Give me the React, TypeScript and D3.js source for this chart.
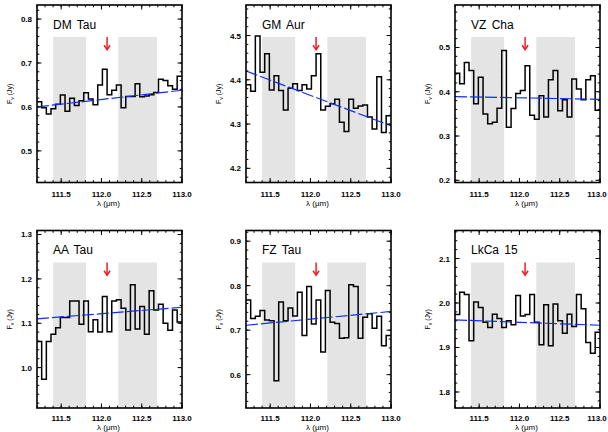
import React from 'react';
import * as d3 from 'd3';

// ---- data ----
const wavelength = [
  111.229, 111.287, 111.345, 111.403, 111.461, 111.519, 111.577, 111.635, 111.693, 111.751,
  111.809, 111.867, 111.925, 111.983, 112.041, 112.099, 112.157, 112.215, 112.273, 112.331,
  112.389, 112.447, 112.505, 112.563, 112.621, 112.679, 112.737, 112.795, 112.853, 112.911,
  112.969,
];

const targets = ['DM Tau', 'GM Aur', 'VZ Cha', 'AA Tau', 'FZ Tau', 'LkCa 15'];

const fluxDMTau = [
  0.612, 0.598, 0.584, 0.596, 0.606, 0.627, 0.590, 0.620, 0.603, 0.614,
  0.632, 0.618, 0.605, 0.650, 0.686, 0.628, 0.638, 0.650, 0.598, 0.624,
  0.624, 0.653, 0.623, 0.625, 0.628, 0.633, 0.663, 0.660, 0.648, 0.640,
  0.670,
];
const fluxGMAur = [
  4.389, 4.374, 4.499, 4.417, 4.459, 4.377, 4.409, 4.376, 4.332, 4.381,
  4.391, 4.376, 4.389, 4.379, 4.409, 4.459, 4.332, 4.340, 4.346, 4.356,
  4.304, 4.283, 4.356, 4.336, 4.341, 4.343, 4.316, 4.289, 4.407, 4.281,
  4.319,
];
const fluxVZCha = [
  0.442, 0.418, 0.466, 0.448, 0.373, 0.433, 0.350, 0.328, 0.331, 0.363,
  0.493, 0.320, 0.362, 0.396, 0.403, 0.459, 0.347, 0.338, 0.391, 0.343,
  0.427, 0.448, 0.357, 0.382, 0.343, 0.429, 0.406, 0.382, 0.427, 0.436,
  0.358,
];
const fluxAATau = [
  1.059, 0.974, 1.059, 1.075, 1.090, 1.113, 1.113, 1.150, 1.150, 1.098,
  1.150, 1.081, 1.108, 1.080, 1.160, 1.081, 1.150, 1.153, 1.134, 1.085,
  1.187, 1.087, 1.138, 1.075, 1.173, 1.130, 1.143, 1.100, 1.084, 1.130,
  1.103,
];
const fluxFZTau = [
  0.768, 0.726, 0.731, 0.744, 0.723, 0.721, 0.586, 0.763, 0.721, 0.750,
  0.732, 0.785, 0.688, 0.798, 0.714, 0.768, 0.651, 0.789, 0.718, 0.715,
  0.682, 0.683, 0.802, 0.798, 0.682, 0.729, 0.737, 0.704, 0.731, 0.665,
  0.688,
];
const fluxLkCa15 = [
  1.974, 2.024, 2.019, 1.915, 2.002, 1.990, 1.957, 1.945, 1.975, 1.965,
  1.945, 1.960, 1.951, 2.017, 1.971, 1.974, 2.019, 1.957, 1.906, 1.996,
  1.904, 1.998, 1.960, 1.932, 1.975, 1.947, 2.019, 1.987, 1.911, 1.887,
  1.934,
];
const fluxes = [fluxDMTau, fluxGMAur, fluxVZCha, fluxAATau, fluxFZTau, fluxLkCa15];

const yDomains: [number, number][] = [
  [0.428, 0.832], [4.168, 4.569], [0.195, 0.596],
  [0.909, 1.309], [0.525, 0.924], [1.764, 2.163],
];
const fitStart = [0.600, 4.420, 0.389, 1.110, 0.711, 1.962];
const fitEnd = [0.638, 4.296, 0.383, 1.136, 0.742, 1.950];

const xDomain: [number, number] = [111.2, 113.0];
const xMajorTicks = [111.5, 112.0, 112.5, 113.0];
const xTickLabels = ['111.5', '112.0', '112.5', '113.0'];
const continuumBands: [number, number][] = [[111.40, 111.81], [112.21, 112.69]];
const hdLine = 112.07;

// ---- layout ----
const colLeft = [37, 246, 455];
const rowTop = [5, 230.5];
const PW = 145;
const PH = 177.5;
const SVG_W = 608;
const FONT = "'Liberation Sans', Arial, Helvetica, sans-serif";

function Panel({ i }: { i: number }) {
  const row = Math.floor(i / 3);
  const left = colLeft[i % 3];
  const top = rowTop[row];
  const x = d3.scaleLinear().domain(xDomain).range([left, left + PW]);
  const y = d3.scaleLinear().domain(yDomains[i]).range([top + PH, top]);
  const [y0, y1] = yDomains[i];

  const pts: [number, number][] = [
    [xDomain[0], fluxes[i][0]],
    ...wavelength.map((w, k) => [w, fluxes[i][k]] as [number, number]),
    [xDomain[1], fluxes[i][fluxes[i].length - 1]],
  ];
  const stepPath = d3.line<[number, number]>()
    .x(d => x(d[0]))
    .y(d => y(d[1]))
    .curve(d3.curveStep)(pts) || '';

  const yMajor = d3.range(Math.ceil(y0 * 10 - 1e-6), Math.floor(y1 * 10 + 1e-6) + 1).map(v => v / 10);
  const yMinor = d3.range(Math.ceil(y0 * 50 - 1e-6), Math.floor(y1 * 50 + 1e-6) + 1).map(v => v / 50);
  const xMinor = d3.range(1112, 1131).map(v => v / 10);

  const bandTop = top + PH * 0.18;
  const ax = x(hdLine);
  const arrowTail = top + PH * 0.18;
  const arrowTip = top + PH * 0.252;
  const clipId = `clip${i}`;
  const majLen = 4.5;
  const minLen = 2.3;
  const tickLabelDy = row === 0 ? 14 : 12.5;
  const axisTitleDy = row === 0 ? 23.5 : 21.5;

  return (
    <g>
      <defs>
        <clipPath id={clipId}>
          <rect x={left} y={top} width={PW} height={PH} />
        </clipPath>
      </defs>
      {continuumBands.map((b, k) => (
        <rect key={k} x={x(b[0])} y={bandTop} width={x(b[1]) - x(b[0])} height={top + PH - bandTop} fill="#e4e4e4" />
      ))}
      <g clipPath={`url(#${clipId})`}>
        <path d={stepPath} fill="none" stroke="#000" strokeWidth={1.5} />
        <line x1={x(xDomain[0])} x2={x(xDomain[1])} y1={y(fitStart[i])} y2={y(fitEnd[i])}
          stroke="#1030f0" strokeWidth={1.2} strokeDasharray="12 3" />
      </g>
      <line x1={ax} x2={ax} y1={arrowTail} y2={arrowTip} stroke="#ee1c24" strokeWidth={1.5} />
      <polyline points={`${ax - 3},${arrowTip - 4.5} ${ax},${arrowTip} ${ax + 3},${arrowTip - 4.5}`}
        fill="none" stroke="#ee1c24" strokeWidth={1.5} />
      {/* ticks */}
      {xMinor.map((t, k) => (
        <g key={'xm' + k} stroke="#000" strokeWidth={1}>
          <line x1={x(t)} x2={x(t)} y1={top + PH} y2={top + PH - minLen} />
          <line x1={x(t)} x2={x(t)} y1={top} y2={top + minLen} />
        </g>
      ))}
      {xMajorTicks.map((t, k) => (
        <g key={'xM' + k} stroke="#000" strokeWidth={1}>
          <line x1={x(t)} x2={x(t)} y1={top + PH} y2={top + PH - majLen} />
          <line x1={x(t)} x2={x(t)} y1={top} y2={top + majLen} />
        </g>
      ))}
      {yMinor.map((t, k) => (
        <g key={'ym' + k} stroke="#000" strokeWidth={1}>
          <line x1={left} x2={left + minLen} y1={y(t)} y2={y(t)} />
          <line x1={left + PW} x2={left + PW - minLen} y1={y(t)} y2={y(t)} />
        </g>
      ))}
      {yMajor.map((t, k) => (
        <g key={'yM' + k} stroke="#000" strokeWidth={1}>
          <line x1={left} x2={left + majLen} y1={y(t)} y2={y(t)} />
          <line x1={left + PW} x2={left + PW - majLen} y1={y(t)} y2={y(t)} />
        </g>
      ))}
      <rect x={left} y={top} width={PW} height={PH} fill="none" stroke="#000" strokeWidth={1.6} />
      {/* tick labels */}
      {xMajorTicks.map((t, k) => (
        <text key={'xl' + k} x={Math.min(x(t), SVG_W - 11)} y={top + PH + tickLabelDy} textAnchor="middle"
          fontFamily={FONT} fontSize={8} fontWeight={700} fill="#000">{xTickLabels[k]}</text>
      ))}
      {yMajor.map((t, k) => (
        <text key={'yl' + k} x={left - 5} y={y(t) + 3} textAnchor="end"
          fontFamily={FONT} fontSize={8} fontWeight={700} fill="#000">{t.toFixed(1)}</text>
      ))}
      {/* axis titles */}
      <text x={left + PW / 2 - 1} y={top + PH + axisTitleDy} textAnchor="middle" fontFamily={FONT} fontSize={8} fill="#000">
        λ (μm)
      </text>
      <text transform={`translate(${left - 25},${top + PH / 2}) rotate(-90)`} textAnchor="middle"
        fontFamily={FONT} fontSize={7} fill="#000">
        F<tspan fontSize={5} dy={1.5}>ν</tspan><tspan dy={-1.5}> (Jy)</tspan>
      </text>
      <text x={left + 16} y={top + 23.5} fontFamily={FONT} fontSize={12} fill="#000" wordSpacing={2}>
        {targets[i]}
      </text>
    </g>
  );
}

export default function App() {
  return (
    <svg width={608} height={432} style={{ position: 'absolute', left: 0, top: 0, background: '#fff' }}>
      <rect x={0} y={0} width={608} height={432} fill="#fff" />
      {targets.map((_, i) => <Panel key={i} i={i} />)}
    </svg>
  );
}
